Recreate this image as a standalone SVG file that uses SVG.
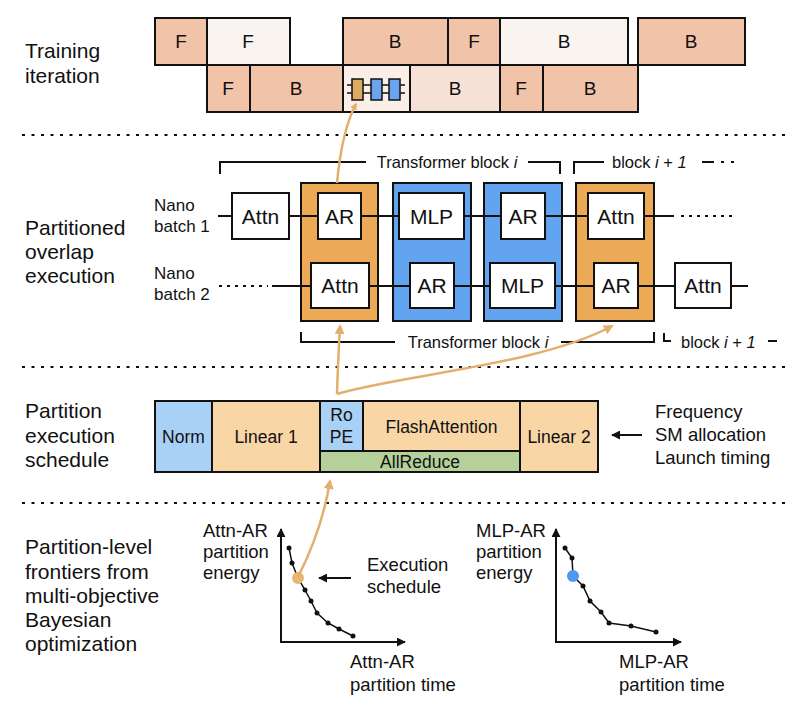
<svg xmlns="http://www.w3.org/2000/svg" width="800" height="708" viewBox="0 0 800 708">
<defs>
<style>
text{font-family:"Liberation Sans",Arial,sans-serif;fill:#111}
.lbl{font-size:21px}
.box{stroke:#111;stroke-width:2}
.tb{font-size:19px;text-anchor:middle}
.bt{font-size:21px;text-anchor:middle}
.st{font-size:17.5px;text-anchor:middle}
.sm{font-size:16.5px}
.ax{font-size:18.5px}
.sep{stroke:#111;stroke-width:2.2;stroke-dasharray:3 6.5;fill:none}
.ln{stroke:#111;stroke-width:2;fill:none}
.dot{stroke:#111;stroke-width:2;stroke-dasharray:3 5;fill:none}
.oa{stroke:#e2b06c;stroke-width:2.5;fill:none}
.sal{fill:#f1c3a8}
.lt{fill:#faf4f1}
.wb{fill:#fff;stroke:#111;stroke-width:2}
.og{fill:#eca956;stroke:#111;stroke-width:2}
.bl{fill:#62a4f0;stroke:#111;stroke-width:2}
.pl{stroke:#111;stroke-width:1.5;fill:none}
</style>
<marker id="oarr" viewBox="0 0 10 10" refX="8" refY="5" markerWidth="10" markerHeight="10" markerUnits="userSpaceOnUse" orient="auto">
<path d="M0,0 L10,5 L0,10 z" fill="#e2b06c"/>
</marker>
<marker id="oarrs" viewBox="0 0 10 10" refX="8" refY="5" markerWidth="7" markerHeight="7" markerUnits="userSpaceOnUse" orient="auto">
<path d="M0,0 L10,5 L0,10 z" fill="#e2b06c"/>
</marker>
<marker id="karr" viewBox="0 0 10 10" refX="9" refY="5" markerWidth="9" markerHeight="9" markerUnits="userSpaceOnUse" orient="auto">
<path d="M0,0 L10,5 L0,10 z" fill="#111"/>
</marker>
</defs>
<rect width="800" height="708" fill="#fff"/>

<!-- section labels -->
<g id="labels">
<text class="lbl" x="25" y="58">Training</text>
<text class="lbl" x="25" y="83">iteration</text>
<text class="lbl" x="25" y="235">Partitioned</text>
<text class="lbl" x="25" y="259">overlap</text>
<text class="lbl" x="25" y="283">execution</text>
<text class="lbl" x="25" y="418">Partition</text>
<text class="lbl" x="25" y="443">execution</text>
<text class="lbl" x="25" y="467">schedule</text>
<text class="lbl" x="25" y="554">Partition-level</text>
<text class="lbl" x="25" y="579">frontiers from</text>
<text class="lbl" x="25" y="603">multi-objective</text>
<text class="lbl" x="25" y="627">Bayesian</text>
<text class="lbl" x="25" y="651">optimization</text>
</g>

<g id="separators">
<line class="sep" x1="22" y1="135" x2="786" y2="135"/>
<line class="sep" x1="22" y1="367" x2="786" y2="367"/>
<line class="sep" x1="22" y1="503" x2="786" y2="503"/>
</g>

<!-- training iteration -->
<g id="training">
<rect class="box sal" x="155" y="18" width="52" height="47"/>
<rect class="box lt" x="207" y="18" width="83" height="47"/>
<rect class="box sal" x="343" y="18" width="105" height="47"/>
<rect class="box sal" x="448" y="18" width="52" height="47"/>
<rect class="box lt" x="500" y="18" width="128" height="47"/>
<rect class="box sal" x="638" y="18" width="107" height="47"/>
<rect class="box sal" x="207" y="65" width="43" height="47"/>
<rect class="box sal" x="250" y="65" width="93" height="47"/>
<rect class="box" x="343" y="65" width="67" height="47" fill="#fbeee7"/>
<rect class="box" x="410" y="65" width="90" height="47" fill="#f5e1d6"/>
<rect class="box sal" x="500" y="65" width="43" height="47"/>
<rect class="box sal" x="543" y="65" width="95" height="47"/>
<text class="tb" x="181" y="48">F</text>
<text class="tb" x="248" y="48">F</text>
<text class="tb" x="395" y="48">B</text>
<text class="tb" x="474" y="48">F</text>
<text class="tb" x="564" y="48">B</text>
<text class="tb" x="691" y="48">B</text>
<text class="tb" x="228" y="95">F</text>
<text class="tb" x="296" y="95">B</text>
<text class="tb" x="455" y="95">B</text>
<text class="tb" x="521" y="95">F</text>
<text class="tb" x="590" y="95">B</text>
<g id="icon">
<line x1="347" y1="85" x2="405" y2="85" stroke="#111" stroke-width="1.3"/>
<line x1="347" y1="93" x2="405" y2="93" stroke="#111" stroke-width="1.3"/>
<rect x="352" y="79" width="11" height="21" fill="#dcaa62" stroke="#111" stroke-width="1.5"/>
<rect x="371" y="79" width="11" height="21" fill="#6aa3ee" stroke="#111" stroke-width="1.5"/>
<rect x="389" y="79" width="11" height="21" fill="#6aa3ee" stroke="#111" stroke-width="1.5"/>
</g>
</g>

<!-- overlap execution -->
<g id="overlap">
<text x="154" y="211" font-size="17">Nano</text>
<text x="154" y="232" font-size="17">batch 1</text>
<text x="154" y="279" font-size="17">Nano</text>
<text x="154" y="300" font-size="17">batch 2</text>

<g id="brackets">
<path class="ln" d="M220,174 V162 H366 M528,162 H560 V174"/>
<text class="sm" x="447" y="168" text-anchor="middle">Transformer block <tspan font-style="italic">i</tspan></text>
<path class="ln" d="M574,174 V162 H604"/>
<text class="sm" x="612" y="168">block <tspan font-style="italic">i</tspan> + <tspan font-style="italic">1</tspan></text>
<path class="ln" d="M702,162 H714"/>
<path class="ln" d="M721,162 H735" stroke-dasharray="3 7"/>
<path class="ln" d="M301,332 V342 H395 M561,342 H654 V332"/>
<text class="sm" x="478" y="348" text-anchor="middle">Transformer block <tspan font-style="italic">i</tspan></text>
<path class="ln" d="M664,333 V341 H671"/>
<text class="sm" x="681" y="348">block <tspan font-style="italic">i</tspan> + <tspan font-style="italic">1</tspan></text>
<path class="ln" d="M768,341 H777"/>
</g>

<g id="part-attn-ar-1"><rect class="og" x="301" y="183" width="77" height="138"/></g>
<g id="part-mlp-ar-1"><rect class="bl" x="393" y="183" width="78" height="138"/></g>
<g id="part-mlp-ar-2"><rect class="bl" x="484" y="183" width="78" height="138"/></g>
<g id="part-attn-ar-2"><rect class="og" x="576" y="183" width="78" height="138"/></g>

<g id="rows">
<line class="ln" x1="218" y1="216" x2="674" y2="216"/>
<line class="dot" x1="681" y1="216" x2="736" y2="216"/>
<line class="dot" x1="219" y1="286" x2="268" y2="286"/>
<line class="ln" x1="272" y1="286" x2="748" y2="286"/>
</g>

<g id="n1-attn"><rect class="wb" x="232" y="193" width="57" height="46"/><text class="bt" x="260.5" y="223.5">Attn</text></g>
<g id="n1-ar1"><rect class="wb" x="318" y="193" width="43" height="46"/><text class="bt" x="339.5" y="223.5">AR</text></g>
<g id="n1-mlp"><rect class="wb" x="399" y="193" width="65" height="46"/><text class="bt" x="431.5" y="223.5">MLP</text></g>
<g id="n1-ar2"><rect class="wb" x="501" y="193" width="44" height="46"/><text class="bt" x="523" y="223.5">AR</text></g>
<g id="n1-attn2"><rect class="wb" x="588" y="193" width="56" height="46"/><text class="bt" x="616" y="223.5">Attn</text></g>

<g id="n2-attn"><rect class="wb" x="311" y="263" width="58" height="45"/><text class="bt" x="340" y="293">Attn</text></g>
<g id="n2-ar1"><rect class="wb" x="410" y="263" width="44" height="45"/><text class="bt" x="432" y="293">AR</text></g>
<g id="n2-mlp"><rect class="wb" x="490" y="263" width="65" height="45"/><text class="bt" x="522.5" y="293">MLP</text></g>
<g id="n2-ar2"><rect class="wb" x="594" y="263" width="44" height="45"/><text class="bt" x="616" y="293">AR</text></g>
<g id="n2-attn2"><rect class="wb" x="675" y="263" width="56" height="45"/><text class="bt" x="703" y="293">Attn</text></g>
</g>

<!-- schedule -->
<g id="schedule">
<rect x="155" y="401" width="57" height="71" fill="#a9d0f5" class="box"/>
<rect x="212" y="401" width="108" height="71" fill="#f9d6a5" class="box"/>
<rect x="320" y="401" width="43" height="50" fill="#a9d0f5" class="box"/>
<rect x="363" y="401" width="157" height="50" fill="#f9d6a5" class="box"/>
<rect x="320" y="451" width="200" height="21" fill="#b6d09b" class="box"/>
<rect x="520" y="401" width="78" height="71" fill="#f9d6a5" class="box"/>
<rect x="155" y="401" width="443" height="71" fill="none" class="box"/>
<text class="st" x="183.5" y="443">Norm</text>
<text class="st" x="266" y="443">Linear 1</text>
<text class="st" x="341.5" y="421">Ro</text>
<text class="st" x="341.5" y="443">PE</text>
<text class="st" x="441.5" y="433">FlashAttention</text>
<text class="st" x="420" y="468">AllReduce</text>
<text class="st" x="559" y="443">Linear 2</text>
</g>
<g id="knobs">
<text x="655" y="418" font-size="18.5">Frequency</text>
<text x="655" y="441" font-size="18.5">SM allocation</text>
<text x="655" y="464" font-size="18.5">Launch timing</text>
</g>

<!-- frontier plots -->
<g id="plot-attn">
<line class="ln" x1="281" y1="642" x2="281" y2="529" marker-end="url(#karr)"/>
<line class="ln" x1="280" y1="642" x2="405" y2="642" marker-end="url(#karr)"/>
<polyline class="pl" points="289,548 292,563 298,578 305,590 311,601 317,613 328,623 339,629 353,636"/>
<g fill="#111">
<circle cx="289" cy="548" r="2.5"/><circle cx="292" cy="563" r="2.5"/><circle cx="305" cy="590" r="2.5"/><circle cx="311" cy="601" r="2.5"/><circle cx="317" cy="613" r="2.5"/><circle cx="328" cy="623" r="2.5"/><circle cx="339" cy="629" r="2.5"/><circle cx="353" cy="636" r="2.5"/>
</g>
<circle cx="298" cy="578" r="6" fill="#e9b574"/>
<text class="ax" x="203" y="537">Attn-AR</text>
<text class="ax" x="203" y="558">partition</text>
<text class="ax" x="203" y="579">energy</text>
<text class="ax" x="350" y="668">Attn-AR</text>
<text class="ax" x="350" y="691">partition time</text>
<text class="ax" x="367" y="571">Execution</text>
<text class="ax" x="367" y="593">schedule</text>
</g>

<g id="plot-mlp">
<line class="ln" x1="556" y1="642" x2="556" y2="529" marker-end="url(#karr)"/>
<line class="ln" x1="555" y1="642" x2="681" y2="642" marker-end="url(#karr)"/>
<polyline class="pl" points="565,548 572,558 573,576 583,586 590,601 601,612 609,623 631,626 656,632"/>
<g fill="#111">
<circle cx="565" cy="548" r="2.5"/><circle cx="572" cy="558" r="2.5"/><circle cx="583" cy="586" r="2.5"/><circle cx="590" cy="601" r="2.5"/><circle cx="601" cy="612" r="2.5"/><circle cx="609" cy="623" r="2.5"/><circle cx="631" cy="626" r="2.5"/><circle cx="656" cy="632" r="2.5"/>
</g>
<circle cx="573" cy="576" r="6" fill="#4f97ef"/>
<text class="ax" x="476" y="537">MLP-AR</text>
<text class="ax" x="476" y="558">partition</text>
<text class="ax" x="476" y="579">energy</text>
<text class="ax" x="619" y="668">MLP-AR</text>
<text class="ax" x="619" y="691">partition time</text>
</g>

<!-- connectors -->
<g id="connectors">
<path class="oa" d="M337,183 Q342,130 356,104" marker-end="url(#oarrs)"/>
<path class="oa" d="M337,394 Q338,362 340,326" marker-end="url(#oarr)"/>
<path class="oa" d="M337,394 C400,375 540,365 612,326" marker-end="url(#oarr)"/>
<path class="oa" d="M298,577 Q322,530 330,481" marker-end="url(#oarr)"/>
<line class="ln" x1="642" y1="435" x2="612" y2="435" marker-end="url(#karr)"/>
<line class="ln" x1="351" y1="578" x2="319" y2="578" marker-end="url(#karr)"/>
</g>
</svg>
